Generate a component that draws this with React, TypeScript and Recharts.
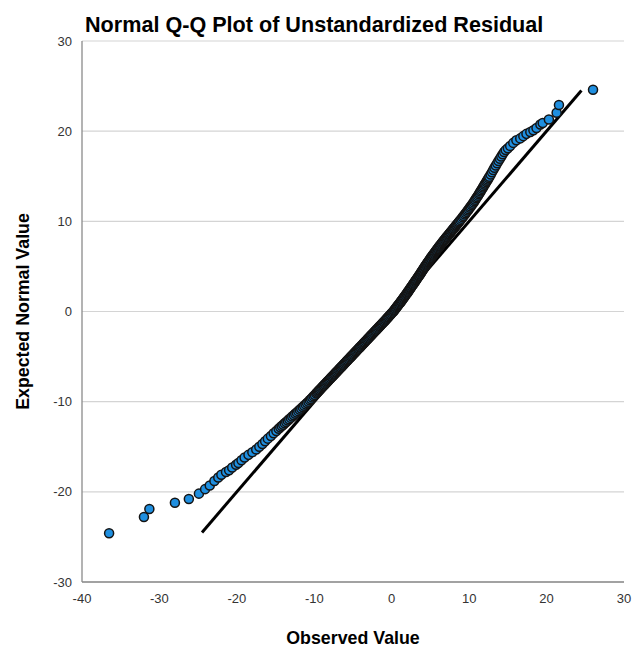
import React from 'react';
import { ScatterChart, Scatter, XAxis, YAxis, ZAxis, CartesianGrid, ReferenceLine } from 'recharts';

const FONT = '"Liberation Sans", Arial, Helvetica, sans-serif';

const chartTitle = 'Normal Q-Q Plot of Unstandardized Residual';
const xAxisTitle = 'Observed Value';
const yAxisTitle = 'Expected Normal Value';

const xTicks = [-40, -30, -20, -10, 0, 10, 20, 30];
const yTicks = [-30, -20, -10, 0, 10, 20, 30];

// y = x reference line ends (observed, expected)
const referenceLineEnds = [
  { x: -24.5, y: -24.5 },
  { x: 24.5, y: 24.5 },
];

// lower tail: [observed value, expected normal value]
const lowerTail: [number, number][] = [
  [-36.5, -24.6], [-32.0, -22.8], [-31.3, -21.9], [-28.0, -21.2], [-26.2, -20.8],
  [-24.9, -20.2], [-24.1, -19.7], [-23.5, -19.3], [-22.9, -18.8], [-22.4, -18.4],
  [-22.0, -18.1], [-21.4, -17.8], [-21.0, -17.6], [-20.6, -17.3], [-20.1, -17.0],
  [-19.8, -16.8], [-19.4, -16.5], [-19.0, -16.2], [-18.5, -15.9], [-18.0, -15.6],
  [-17.5, -15.3], [-17.1, -15.0], [-16.7, -14.7], [-16.35, -14.4], [-16.0, -14.1],
  [-15.6, -13.8], [-15.25, -13.5], [-14.9, -13.25],
];

// lower body
const lowerBody: [number, number][] = [
  [-14.6, -13.0], [-14.4, -12.85], [-14.21, -12.7], [-14.01, -12.55], [-13.82, -12.4],
  [-13.62, -12.25], [-13.43, -12.1], [-13.24, -11.95], [-13.04, -11.8], [-12.85, -11.65],
  [-12.65, -11.5], [-12.46, -11.35], [-12.26, -11.2], [-12.07, -11.05], [-11.88, -10.9],
  [-11.69, -10.75], [-11.5, -10.6], [-11.31, -10.45], [-11.13, -10.3], [-10.94, -10.15],
  [-10.75, -10.0], [-10.59, -9.85], [-10.42, -9.7], [-10.26, -9.55], [-10.09, -9.4],
  [-9.93, -9.25], [-9.76, -9.1],
];

// central body (densest part)
const centralBody: [number, number][] = [
  [-9.65, -9.0], [-9.54, -8.9], [-9.43, -8.8], [-9.32, -8.7], [-9.21, -8.6],
  [-9.1, -8.5], [-8.99, -8.4], [-8.88, -8.3], [-8.77, -8.2], [-8.66, -8.1],
  [-8.55, -8.0], [-8.44, -7.9], [-8.33, -7.8], [-8.22, -7.7], [-8.11, -7.6],
  [-8.0, -7.5], [-7.89, -7.4], [-7.78, -7.3], [-7.67, -7.2], [-7.56, -7.1],
  [-7.45, -7.0], [-7.34, -6.9], [-7.23, -6.8], [-7.12, -6.7], [-7.01, -6.6],
  [-6.9, -6.5], [-6.79, -6.4], [-6.68, -6.3], [-6.57, -6.2], [-6.46, -6.1],
  [-6.35, -6.0], [-6.24, -5.9], [-6.13, -5.8], [-6.02, -5.7], [-5.91, -5.6],
  [-5.8, -5.5], [-5.69, -5.4], [-5.58, -5.3], [-5.47, -5.2], [-5.36, -5.1],
  [-5.25, -5.0], [-5.14, -4.9], [-5.03, -4.8], [-4.92, -4.7], [-4.81, -4.6],
  [-4.7, -4.5], [-4.59, -4.4], [-4.48, -4.3], [-4.37, -4.2], [-4.26, -4.1],
  [-4.15, -4.0], [-4.04, -3.9], [-3.93, -3.8], [-3.82, -3.7], [-3.71, -3.6],
  [-3.6, -3.5], [-3.49, -3.4], [-3.38, -3.3], [-3.27, -3.2], [-3.16, -3.1],
  [-3.05, -3.0], [-2.94, -2.9], [-2.83, -2.8], [-2.72, -2.7], [-2.61, -2.6],
  [-2.5, -2.5], [-2.39, -2.4], [-2.28, -2.3], [-2.17, -2.2], [-2.06, -2.1],
  [-1.95, -2.0], [-1.84, -1.9], [-1.73, -1.8], [-1.62, -1.7], [-1.51, -1.6],
  [-1.4, -1.5], [-1.29, -1.4], [-1.18, -1.3], [-1.07, -1.2], [-0.96, -1.1],
  [-0.85, -1.0], [-0.75, -0.9], [-0.64, -0.8], [-0.54, -0.7], [-0.43, -0.6],
  [-0.33, -0.5], [-0.22, -0.4], [-0.12, -0.3], [-0.01, -0.2], [0.1, -0.1],
  [0.2, 0.0], [0.29, 0.1], [0.38, 0.2], [0.47, 0.3], [0.56, 0.4],
  [0.65, 0.5], [0.74, 0.6], [0.83, 0.7], [0.92, 0.8], [1.01, 0.9],
  [1.1, 1.0], [1.19, 1.1], [1.27, 1.2], [1.36, 1.3], [1.44, 1.4],
  [1.53, 1.5], [1.61, 1.6], [1.7, 1.7], [1.78, 1.8], [1.87, 1.9],
  [1.95, 2.0], [2.03, 2.1], [2.11, 2.2], [2.19, 2.3], [2.27, 2.4],
  [2.35, 2.5], [2.43, 2.6], [2.51, 2.7], [2.59, 2.8], [2.67, 2.9],
  [2.75, 3.0], [2.83, 3.1], [2.91, 3.2], [2.99, 3.3], [3.07, 3.4],
  [3.15, 3.5], [3.23, 3.6], [3.31, 3.7], [3.39, 3.8], [3.47, 3.9],
  [3.55, 4.0], [3.63, 4.1], [3.7, 4.2], [3.78, 4.3], [3.85, 4.4],
  [3.93, 4.5], [4.0, 4.6], [4.08, 4.7], [4.15, 4.8], [4.23, 4.9],
  [4.3, 5.0], [4.38, 5.1], [4.46, 5.2], [4.54, 5.3], [4.62, 5.4],
  [4.7, 5.5], [4.78, 5.6], [4.86, 5.7], [4.94, 5.8], [5.02, 5.9],
  [5.1, 6.0], [5.19, 6.1], [5.27, 6.2], [5.36, 6.3], [5.44, 6.4],
  [5.53, 6.5], [5.61, 6.6], [5.7, 6.7], [5.78, 6.8], [5.87, 6.9],
  [5.95, 7.0], [6.04, 7.1], [6.13, 7.2], [6.22, 7.3], [6.31, 7.4],
  [6.4, 7.5], [6.49, 7.6], [6.58, 7.7], [6.67, 7.8], [6.76, 7.9],
  [6.85, 8.0], [6.95, 8.1], [7.04, 8.2], [7.14, 8.3], [7.23, 8.4],
  [7.33, 8.5], [7.42, 8.6], [7.52, 8.7], [7.61, 8.8], [7.71, 8.9],
  [7.8, 9.0], [7.9, 9.1], [7.99, 9.2], [8.09, 9.3], [8.18, 9.4],
  [8.28, 9.5], [8.37, 9.6], [8.47, 9.7], [8.56, 9.8], [8.66, 9.9],
];

// upper body
const upperBody: [number, number][] = [
  [8.75, 10.0], [8.89, 10.15], [9.02, 10.3], [9.16, 10.45], [9.29, 10.6],
  [9.43, 10.75], [9.56, 10.9], [9.69, 11.05], [9.82, 11.2], [9.95, 11.35],
  [10.08, 11.5], [10.2, 11.65], [10.33, 11.8], [10.46, 11.95], [10.58, 12.1],
  [10.69, 12.25], [10.8, 12.4], [10.91, 12.55], [11.03, 12.7], [11.14, 12.85],
  [11.25, 13.0], [11.36, 13.15], [11.46, 13.3], [11.57, 13.45], [11.67, 13.6],
  [11.78, 13.75], [11.88, 13.9], [11.99, 14.05], [12.09, 14.2], [12.2, 14.35],
  [12.3, 14.5], [12.41, 14.65], [12.51, 14.8], [12.62, 14.95], [12.78, 15.2],
  [12.95, 15.45], [13.11, 15.7], [13.27, 15.95], [13.44, 16.2], [13.62, 16.45],
  [13.79, 16.7], [13.97, 16.95], [14.15, 17.2], [14.33, 17.45], [14.52, 17.7],
  [14.72, 17.9],
];

// upper tail
const upperTail: [number, number][] = [
  [15.0, 18.1], [15.3, 18.35], [15.7, 18.7], [16.1, 19.0], [16.6, 19.2],
  [17.0, 19.45], [17.4, 19.7], [17.9, 19.9], [18.3, 20.1], [18.7, 20.35],
  [19.2, 20.75], [19.5, 20.9], [20.3, 21.3], [21.3, 22.05], [21.6, 22.9],
  [26.0, 24.6],
];

const qqPoints: [number, number][] = [
  ...lowerTail,
  ...lowerBody,
  ...centralBody,
  ...upperBody,
  ...upperTail,
];

export default function App() {
  const data = qqPoints.map(([observed, expected]) => ({ observed, expected }));
  return (
    <div
      style={{
        position: 'fixed',
        left: 0,
        top: 0,
        width: 634,
        height: 650,
        overflow: 'hidden',
        background: '#fff',
        fontFamily: FONT,
      }}
    >
      <div
        style={{
          position: 'absolute',
          left: 85,
          top: 12,
          fontSize: 21.6,
          fontWeight: 'bold',
          color: '#000',
          whiteSpace: 'nowrap',
          fontFamily: FONT,
          zIndex: 2,
        }}
      >
        {chartTitle}
      </div>
      <ScatterChart width={634} height={650} margin={{ top: 41, right: 10, bottom: 0, left: 0 }}>
        <CartesianGrid horizontal vertical={false} stroke="#d4d4d4" strokeWidth={1.2} />
        <XAxis
          type="number"
          dataKey="observed"
          domain={[-40, 30]}
          ticks={xTicks}
          allowDataOverflow
          height={68}
          tickLine={false}
          tickSize={6}
          tickMargin={6}
          axisLine={{ stroke: '#8a8a8a', strokeWidth: 1.3 }}
          tick={{ fontSize: 13, fill: '#333', fontFamily: FONT }}
          label={{
            value: xAxisTitle,
            position: 'insideBottom',
            offset: 6,
            style: { fontSize: 17.8, fontWeight: 'bold', fill: '#000', fontFamily: FONT },
          }}
        />
        <YAxis
          type="number"
          dataKey="expected"
          domain={[-30, 30]}
          ticks={yTicks}
          allowDataOverflow
          width={82}
          tickLine={false}
          tickSize={6}
          tickMargin={4}
          axisLine={{ stroke: '#8a8a8a', strokeWidth: 1.3 }}
          tick={{ fontSize: 13, fill: '#333', fontFamily: FONT }}
          label={{
            value: yAxisTitle,
            angle: -90,
            position: 'insideLeft',
            offset: 23,
            style: { fontSize: 17.8, fontWeight: 'bold', fill: '#000', fontFamily: FONT, textAnchor: 'middle' },
          }}
        />
        <ZAxis range={[72, 72]} />
        <Scatter
          data={data}
          fill="#1f8fe0"
          stroke="#141414"
          strokeWidth={1.5}
          shape="circle"
          isAnimationActive={false}
        />
        <ReferenceLine segment={referenceLineEnds} stroke="#000" strokeWidth={3} ifOverflow="visible" />
      </ScatterChart>
    </div>
  );
}
